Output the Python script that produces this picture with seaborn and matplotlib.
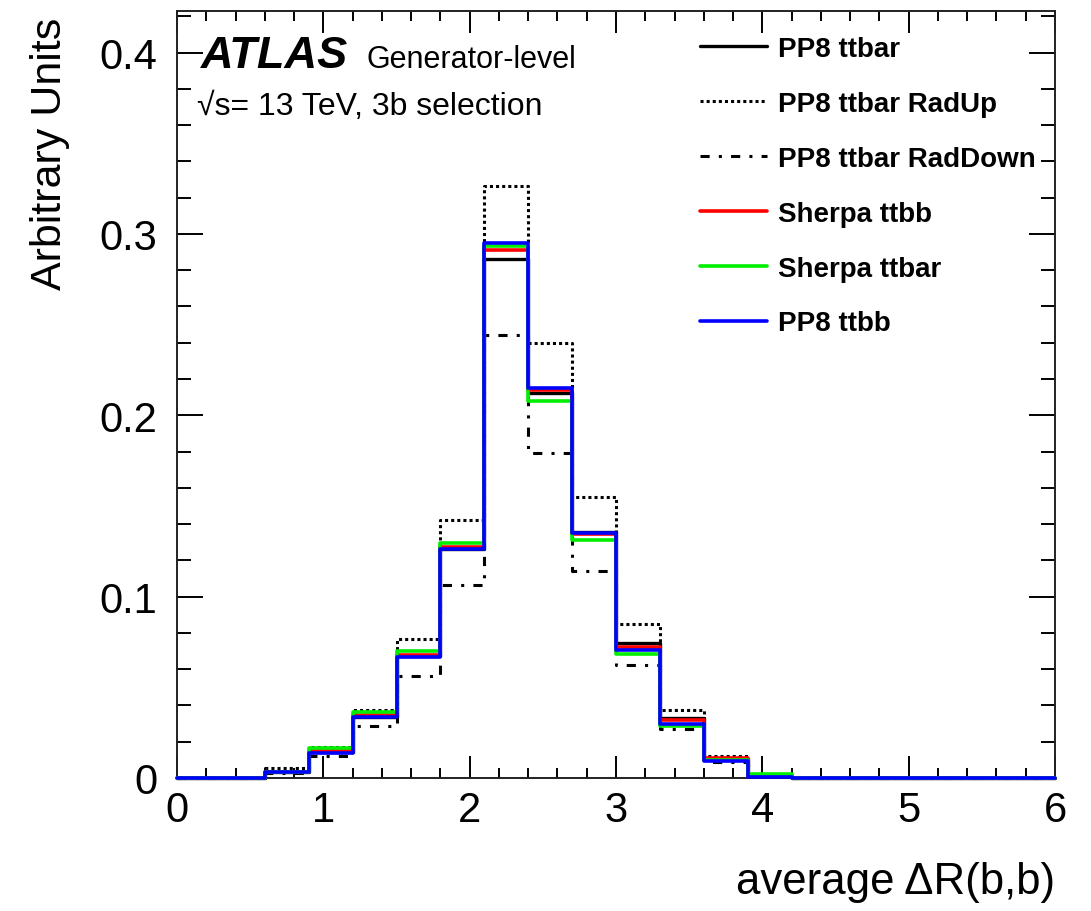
import numpy as np
import pandas as pd
import matplotlib
matplotlib.use("Agg")
import matplotlib.pyplot as plt
import seaborn as sns

# bin edges of average dR(b,b), 20 bins of 0.3 from 0 to 6
bin_edges = [0.0, 0.3, 0.6, 0.9, 1.2, 1.5, 1.8, 2.1, 2.4, 2.7, 3.0,
             3.3, 3.6, 3.9, 4.2, 4.5, 4.8, 5.1, 5.4, 5.7, 6.0]

samples = ["PP8 ttbar", "PP8 ttbar RadUp", "PP8 ttbar RadDown",
           "Sherpa ttbb", "Sherpa ttbar", "PP8 ttbb"]

pp8_ttbar = [0, 0, 0.0035, 0.0145, 0.0335, 0.0670, 0.1265, 0.2860, 0.2121, 0.1354,
             0.0744, 0.0329, 0.0105, 0.0010, 0, 0, 0, 0, 0, 0]
pp8_radup = [0, 0, 0.0053, 0.0170, 0.0376, 0.0766, 0.1420, 0.3264, 0.2400, 0.1547,
             0.0847, 0.0376, 0.0123, 0.0015, 0, 0, 0, 0, 0, 0]
pp8_raddown = [0, 0, 0.0030, 0.0123, 0.0285, 0.0560, 0.1063, 0.2441, 0.1794, 0.1142,
               0.0623, 0.0270, 0.0090, 0.0010, 0, 0, 0, 0, 0, 0]
sherpa_ttbb = [0, 0, 0.0035, 0.0150, 0.0345, 0.0680, 0.1275, 0.2911, 0.2139, 0.1345,
               0.0724, 0.0320, 0.0108, 0.0010, 0, 0, 0, 0, 0, 0]
sherpa_ttbar = [0, 0, 0.0035, 0.0164, 0.0362, 0.0702, 0.1295, 0.2933, 0.2079, 0.1311,
                0.0683, 0.0285, 0.0100, 0.0022, 0, 0, 0, 0, 0, 0]
pp8_ttbb = [0, 0, 0.0033, 0.0140, 0.0334, 0.0665, 0.1260, 0.2951, 0.2153, 0.1350,
            0.0707, 0.0298, 0.0095, 0.0005, 0, 0, 0, 0, 0, 0]

series = [pp8_ttbar, pp8_radup, pp8_raddown, sherpa_ttbb, sherpa_ttbar, pp8_ttbb]
colors = ["black", "black", "black", "#ff0000", "#00ee00", "#0000ff"]
styles = ["-", (0, (1, 1)), (0, (3, 3, 1, 3)), "-", "-", "-"]
widths = [2.4, 2.2, 2.2, 2.6, 2.6, 2.6]

sns.set_style("ticks")
plt.rcParams["font.family"] = ["Liberation Sans", "DejaVu Sans"]
plt.rcParams["text.color"] = "black"
plt.rcParams["xtick.color"] = "black"
plt.rcParams["ytick.color"] = "black"

fig = plt.figure(figsize=(10.91, 9.12), dpi=100)
ax = fig.add_axes([177 / 1091, 1 - 779 / 912, (1055 - 177) / 1091, (779 - 12) / 912])

centers = [(a + b) / 2 for a, b in zip(bin_edges[:-1], bin_edges[1:])]
for name, vals, col, ls, lw in zip(samples, series, colors, styles, widths):
    df = pd.DataFrame({"x": centers, "w": vals})
    sns.histplot(data=df, x="x", weights="w", bins=bin_edges, element="step", fill=False,
                 color=col, linestyle=ls, linewidth=lw, label=name, ax=ax,
                 clip_on=False, zorder=3)

ax.set_xlim(0, 6)
ax.set_ylim(0, 0.4229)
ax.set_xlabel("")
ax.set_ylabel("")
ax.set_xticks([0, 1, 2, 3, 4, 5, 6])
ax.set_xticks(np.arange(0, 6.01, 0.2), minor=True)
ax.set_yticks([0, 0.1, 0.2, 0.3, 0.4])
ax.set_yticklabels(["0", "0.1", "0.2", "0.3", "0.4"])
ax.set_yticks(np.arange(0, 0.4229, 0.02), minor=True)
ax.tick_params(which="both", direction="in", top=True, right=True, width=1.4, labelsize=30)
ax.tick_params(axis="x", which="major", length=16, pad=9)
ax.tick_params(axis="x", which="minor", length=7.5)
ax.tick_params(axis="y", which="major", length=19, pad=14)
ax.tick_params(axis="y", which="minor", length=10)
for s in ax.spines.values():
    s.set_linewidth(1.4)
    s.set_color("#222222")

fig.text(201 / 1091, 1 - 68 / 912, "ATLAS", fontsize=32.5, fontweight="bold", style="italic")
fig.text(367 / 1091, 1 - 68 / 912, "Generator-level", fontsize=22)
fig.text(197 / 1091, 1 - 115 / 912, "√s= 13 TeV, 3b selection", fontsize=23)

fig.text(50 / 1091, 1 - 18 / 912, "Arbitrary Units", fontsize=31, rotation=90,
         ha="center", va="top")
fig.text(1055 / 1091, 1 - 883 / 912, "average ΔR(b,b)", fontsize=31.5, ha="right", va="center")

ax.legend(loc="upper left", bbox_to_anchor=(700 / 1091, 1 - 37 / 912),
          bbox_transform=fig.transFigure, frameon=False, borderpad=0, borderaxespad=0,
          prop={"size": 20, "weight": "bold"}, handlelength=2.4, handletextpad=0.42,
          labelspacing=1.04)

fig.savefig("out.png", dpi=100)
